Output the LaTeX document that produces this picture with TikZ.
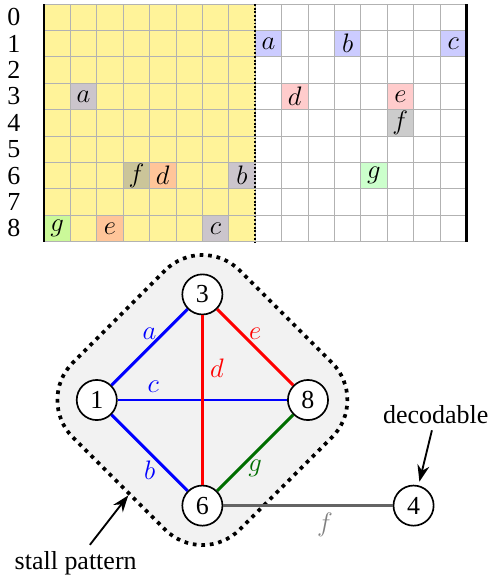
\documentclass[tikz,border=0pt]{standalone}
\usepackage{fontspec}
\setmainfont{Liberation Serif}
\usepackage{xcolor}
\usepackage{tikz}
\usetikzlibrary{arrows.meta, positioning}
\definecolor{stallyellow}{RGB}{255,243,153}
\definecolor{edgegreen}{RGB}{0,110,0}
\definecolor{edgegray}{RGB}{100,100,100}

\begin{document}
\begin{tikzpicture}[
  font=\fontsize{14}{17}\selectfont,
  gridline/.style={gray!60, line width=0.4pt},
  border/.style={line width=1.3pt},
  vertex/.style={circle, draw, line width=0.9pt, fill=white,
    minimum size=0.76cm, inner sep=0pt},
  edge/.style={line width=1.6pt},
  stallbox/.style={rectangle, draw, line width=2pt,
    dash pattern=on 2pt off 2.6pt, fill=gray!10, rotate=45,
    minimum width=4.47cm, minimum height=4.47cm,
    rounded corners=1cm},
  arrow/.style={-{Stealth[length=9pt,width=6.5pt]}, line width=1pt}
]
\useasboundingbox (-0.833,0.076) rectangle (8.466,-10.909);

% Stalled half of the grid
\fill[stallyellow] (0,0) rectangle (4,-4.5);

% Coloured cells
\foreach \cx/\ry/\lab/\col in {
    1/3/a/blue!40, 3/6/f/black!40, 4/6/d/red!40, 7/6/b/blue!40,
    0/8/g/green!40, 2/8/e/red!40, 6/8/c/blue!40,
    8/1/a/blue!40, 11/1/b/blue!40, 15/1/c/blue!40,
    9/3/d/red!40, 13/3/e/red!40, 13/4/f/black!40, 12/6/g/green!40}
{
  \fill[\col, fill opacity=0.5] (0.5*\cx,-0.5*\ry) rectangle ++(0.5,-0.5);
  \node (cell-\cx-\ry) at (0.5*\cx+0.25,-0.5*\ry-0.25) {$\lab$};
}

% Grid lines and borders
\draw[gridline] (0,0) grid[step=0.5] (8,-4.5);
\draw[border] (0,0) -- (0,-4.5);
\draw[border] (8,0) -- (8,-4.5);
\draw[densely dotted, line width=1pt] (4,0) -- (4,-4.5);

% Row numbers
\foreach \ry in {0,...,8}
  \node (row\ry) at (-0.57,-0.5*\ry-0.25) {\ry};

% Stall pattern
\node[stallbox] (stall) at (3,-7.5) {};

% Vertices
\node[vertex] (v3) at (3,-5.5) {3};
\node[vertex] (v1) at (1,-7.5) {1};
\node[vertex] (v8) at (5,-7.5) {8};
\node[vertex] (v6) at (3,-9.5) {6};
\node[vertex] (v4) at (7,-9.5) {4};

% Edges
\draw[edge, blue] (v1) -- node[above] (la) {$a$} (v3);
\draw[edge, blue] (v1) -- node[below] (lb) {$b$} (v6);
\draw[edge, blue] (v1) -- node[above, pos=0.21] (lc) {$c$} (v8);
\draw[edge, red] (v3) -- node[right, pos=0.31] (ld) {$d$} (v6);
\draw[edge, red] (v3) -- node[above] (le) {$e$} (v8);
\draw[edge, edgegreen] (v8) -- node[below] (lg) {$g$} (v6);
\draw[edge, edgegray] (v6) --
  node[below, pos=0.6, text=gray] (lf) {$f$} (v4);

% Annotations
\node[above=1.03cm of v4, xshift=0.42cm] (decod) {decodable};
\node (stalltxt) at (0.6,-10.59) {stall pattern};
\draw[arrow, shorten >=2pt] (decod) -- (v4);
\draw[arrow] (stalltxt) -- (stall);
\end{tikzpicture}
\end{document}
